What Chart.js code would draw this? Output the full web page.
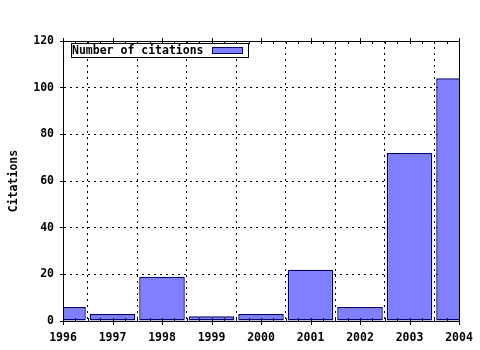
<!DOCTYPE html>
<html>
<head>
<meta charset="utf-8">
<script src="https://cdn.jsdelivr.net/npm/chart.js@4/dist/chart.umd.min.js"></script>
<style>
    html, body { margin: 0; padding: 0; background: #fff; }
    #wrap { width: 480px; height: 350px; }
</style>
</head>
<body>
<div id="wrap"><canvas id="chart"></canvas></div>
<script>
    // Datos del gráfico
    const years = [1996, 1997, 1998, 1999, 2000, 2001, 2002, 2003, 2004];
    const citations = [6, 3, 19, 2, 3, 22, 6, 72, 104];
    const seriesLabel = 'Number of citations';
    const yTitle = 'Citations';

    const FONT = "'DejaVu Sans Mono', monospace";
    const fill = '#8080ff';
    const edge = '#00007a';

    // Marco completo, ticks menores y leyenda dentro del área
    const framePlugin = {
        id: 'frameAndLegend',
        afterDraw: function(chart) {
            const ctx = chart.ctx;
            const a = chart.chartArea;
            const xs = chart.scales.x;
            ctx.save();
            ctx.strokeStyle = '#000';
            ctx.lineWidth = 1;
            ctx.strokeRect(Math.round(a.left) + 0.5, Math.round(a.top) + 0.5,
                Math.round(a.right - a.left), Math.round(a.bottom - a.top));

            // ticks en eje superior e inferior
            ctx.beginPath();
            for (let v = years[0]; v <= years[years.length - 1] + 1e-6; v += 0.25) {
                const px = Math.round(xs.getPixelForValue(v)) + 0.5;
                const major = Math.abs(v - Math.round(v)) < 1e-6;
                const top = Math.round(a.top);
                const bot = Math.round(a.bottom);
                if (major) {
                    ctx.moveTo(px, top - 3); ctx.lineTo(px, top + 3);
                    ctx.moveTo(px, bot - 3); ctx.lineTo(px, bot + 4);
                } else {
                    ctx.moveTo(px, top); ctx.lineTo(px, top + 3);
                    ctx.moveTo(px, bot - 3); ctx.lineTo(px, bot);
                }
            }
            ctx.stroke();

            // leyenda
            const ds = chart.data.datasets[0];
            const bx = 71, by = 43, bw = 177, bh = 14;
            ctx.fillStyle = '#fff';
            ctx.fillRect(bx, by, bw, bh);
            ctx.strokeRect(bx + 0.5, by + 0.5, bw, bh);
            ctx.font = 'bold 11.5px ' + FONT;
            ctx.fillStyle = '#000';
            ctx.textBaseline = 'middle';
            ctx.textAlign = 'left';
            ctx.fillText(ds.label, bx + 1, by + bh / 2 + 1);
            ctx.fillStyle = ds.backgroundColor;
            ctx.fillRect(bx + 141, by + 4, 31, 6);
            ctx.strokeStyle = ds.borderColor;
            ctx.strokeRect(bx + 141.5, by + 4.5, 30, 6);
            ctx.restore();
        }
    };

    new Chart(document.getElementById('chart'), {
        type: 'bar',
        data: {
            datasets: [{
                label: seriesLabel,
                data: years.map(function(y, i) { return { x: y, y: citations[i] }; }),
                backgroundColor: fill,
                borderColor: edge,
                borderWidth: 1.4,
                borderSkipped: false,
                categoryPercentage: 1,
                barPercentage: 0.92,
                clip: 0
            }]
        },
        options: {
            responsive: true,
            maintainAspectRatio: false,
            animation: false,
            layout: { padding: { top: 41, right: 21, left: 0, bottom: 0 } },
            plugins: {
                legend: { display: false },
                tooltip: { enabled: false }
            },
            scales: {
                x: {
                    type: 'linear',
                    min: years[0],
                    max: years[years.length - 1],
                    offset: false,
                    afterFit: function(s) {
                        s.height = 29;
                        s.paddingLeft = 0; s.paddingRight = 0;
                    },
                    ticks: {
                        stepSize: 1,
                        autoSkip: false,
                        maxRotation: 0,
                        padding: 10,
                        color: '#000',
                        font: { family: FONT, size: 11.5, weight: 'bold' },
                        callback: function(v) { return String(v); }
                    },
                    grid: { color: '#000', drawTicks: false },
                    border: { color: '#000', dash: [2, 4] }
                },
                y: {
                    min: 0,
                    max: 120,
                    afterFit: function(s) {
                        s.width = 63;
                        s.paddingTop = 0; s.paddingBottom = 0;
                    },
                    ticks: {
                        stepSize: 20,
                        padding: 6,
                        color: '#000',
                        font: { family: FONT, size: 11.5, weight: 'bold' }
                    },
                    grid: { color: '#000', tickColor: '#000', tickLength: 3 },
                    border: { color: '#000', dash: [2, 4] },
                    title: {
                        display: true,
                        text: yTitle,
                        color: '#000',
                        padding: { top: 7, bottom: 0 },
                        font: { family: FONT, size: 11.5, weight: 'bold' }
                    }
                }
            }
        },
        plugins: [framePlugin]
    });
</script>
</body>
</html>
